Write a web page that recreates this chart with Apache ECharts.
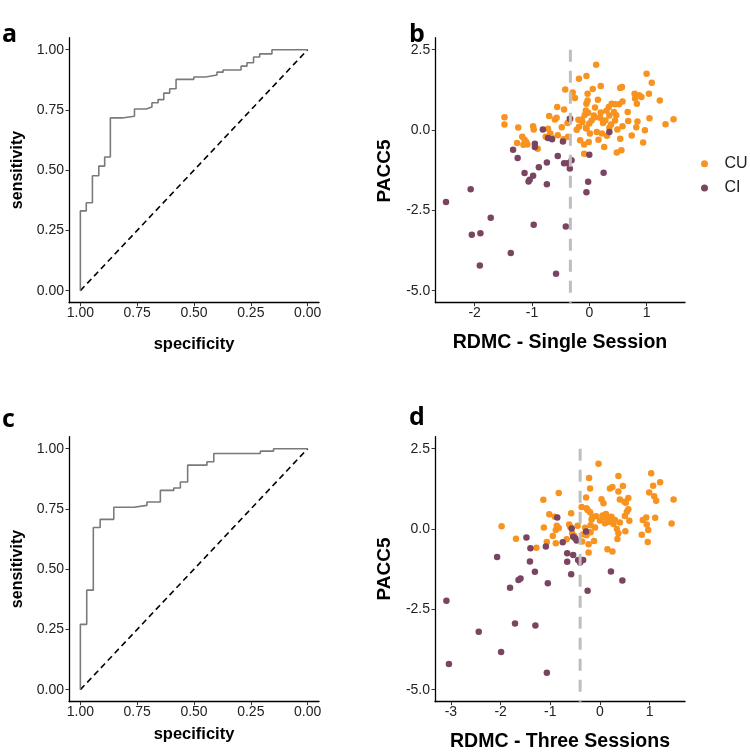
<!DOCTYPE html>
<html><head><meta charset="utf-8">
<script src="https://cdn.jsdelivr.net/npm/echarts@6/dist/echarts.min.js"></script>
<style>html,body{margin:0;padding:0;background:#fff}#chart{width:750px;height:753px}</style>
</head><body><div id="chart"></div>
<script>
// ROC curve corner points (specificity, sensitivity)
const rocA_spec = [1, 1, 0.974, 0.947, 0.919, 0.893, 0.868, 0.817, 0.762, 0.711, 0.685, 0.658, 0.633, 0.607, 0.579, 0.501, 0.449, 0.399, 0.372, 0.293, 0.267, 0.238, 0.211, 0.157, 0];
const rocA_sens = [0, 0.331, 0.365, 0.477, 0.517, 0.555, 0.717, 0.724, 0.754, 0.762, 0.780, 0.793, 0.820, 0.838, 0.877, 0.887, 0.895, 0.907, 0.916, 0.932, 0.946, 0.970, 0.983, 1.0, 1.0];
const rocC_spec = [1, 1, 0.972, 0.943, 0.913, 0.853, 0.765, 0.707, 0.648, 0.589, 0.560, 0.528, 0.443, 0.413, 0.208, 0.150, 0];
const rocC_sens = [0, 0.271, 0.413, 0.673, 0.707, 0.757, 0.765, 0.779, 0.827, 0.837, 0.862, 0.932, 0.946, 0.980, 0.990, 1.0, 1.0];
const rocTicks = [0, 0.25, 0.5, 0.75, 1];

// Panel b: RDMC single session vs PACC5
const bCU = [[-1.48,0.40],[-1.48,0.17],[-1.24,0.08],[-1.26,-0.40],[-1.17,-0.21],[-1.13,-0.30],[-1.15,-0.46],[-1.10,-0.37],[-1.08,-0.45],[-0.98,0.12],[-0.97,0.02],[-0.90,-0.58],[-0.76,-0.21],[-0.72,0.04],[-0.70,0.44],[-0.68,-0.11],[-0.65,-0.25],[-0.60,0.33],[-0.57,0.38],[-0.56,0.72],[-0.55,-0.16],[-0.48,0.09],[-0.45,-0.29],[-0.44,0.64],[-0.42,1.26],[-0.38,0.22],[-0.37,-0.21],[-0.33,0.35],[-0.29,1.17],[-0.25,1.00],[-0.22,0.01],[-0.19,0.32],[-0.18,1.60],[-0.16,-0.32],[-0.13,0.33],[-0.09,-0.45],[-0.09,-0.74],[-0.08,0.47],[-0.06,0.07],[-0.06,0.61],[-0.05,1.68],[-0.05,0.82],[-0.03,0.92],[-0.03,1.13],[-0.02,0.54],[-0.01,-0.37],[0.00,0.20],[0.01,-0.11],[0.04,0.30],[0.06,1.28],[0.10,0.40],[0.12,2.03],[0.13,-0.06],[0.15,0.94],[0.16,-0.30],[0.19,0.38],[0.20,1.37],[0.22,-0.11],[0.24,0.22],[0.26,-0.53],[0.28,0.30],[0.31,-0.18],[0.34,0.72],[0.35,0.07],[0.38,0.17],[0.39,0.82],[0.43,0.56],[0.45,0.30],[0.47,0.46],[0.48,-0.70],[0.49,0.02],[0.52,0.80],[0.54,1.31],[0.54,-0.27],[0.56,-0.63],[0.57,1.34],[0.58,0.89],[0.67,0.56],[0.68,0.28],[0.74,-0.17],[0.79,1.13],[0.80,0.98],[0.82,0.09],[0.84,0.27],[0.83,0.82],[0.87,1.08],[0.91,1.03],[0.94,-0.39],[0.97,-0.01],[1.00,1.75],[1.04,1.13],[1.05,0.37],[1.09,1.47],[1.23,0.92],[1.33,0.18],[1.47,0.34],[-0.05,0.05],[0.08,0.45],[0.30,0.60],[0.20,0.55],[-0.12,0.25],[0.45,0.80],[0.58,0.12],[0.10,0.70],[-0.18,0.10],[0.35,0.45]];
const bCI = [[-2.50,-2.24],[-2.07,-1.84],[-2.05,-3.26],[-1.90,-3.21],[-1.91,-4.22],[-1.72,-2.73],[-1.37,-3.83],[-1.33,-0.61],[-1.25,-0.87],[-1.13,-1.34],[-1.06,-1.60],[-1.04,-1.55],[-0.98,-1.42],[-0.97,-2.95],[-0.95,-0.43],[-0.95,-0.53],[-0.88,-1.16],[-0.81,0.02],[-0.74,-1.01],[-0.74,-1.69],[-0.72,-0.25],[-0.65,-0.29],[-0.58,-4.47],[-0.55,-0.81],[-0.46,-0.36],[-0.44,-1.03],[-0.41,-3.00],[-0.38,-1.03],[-0.34,0.35],[-0.34,-1.20],[-0.31,-0.94],[-0.05,-1.94],[-0.02,-1.61],[0.00,-0.77],[0.25,-1.33],[0.35,-0.06]];
const bCutoff = -0.33;

// Panel d: RDMC three sessions vs PACC5
const dCU = [[-1.98,0.09],[-1.69,-0.30],[-1.28,-0.58],[-1.14,0.91],[-1.13,0.05],[-1.07,-0.40],[-1.02,0.46],[-0.95,-0.22],[-0.91,0.38],[-0.89,-0.44],[-0.89,-0.03],[-0.87,0.10],[-0.83,0.03],[-0.83,1.12],[-0.67,-0.32],[-0.62,0.14],[-0.60,0.07],[-0.58,0.49],[-0.56,-0.13],[-0.52,-0.21],[-0.37,0.69],[-0.34,-0.16],[-0.36,-0.39],[-0.30,0.04],[-0.28,0.98],[-0.27,-0.19],[-0.25,0.59],[-0.23,-0.73],[-0.23,-0.47],[-0.22,1.59],[-0.20,1.26],[-0.20,0.52],[-0.19,0.12],[-0.19,-0.10],[-0.17,0.30],[-0.15,0.38],[-0.12,-0.37],[-0.08,0.40],[-0.03,2.03],[0.03,0.93],[0.07,0.80],[0.07,0.38],[0.10,0.18],[0.12,0.47],[0.13,0.36],[0.15,-0.63],[0.19,0.30],[0.20,1.26],[0.23,0.38],[0.25,1.31],[0.25,-0.70],[0.27,0.16],[0.30,0.28],[0.34,0.00],[0.35,-0.31],[0.37,-0.13],[0.37,1.65],[0.37,1.17],[0.40,0.92],[0.46,1.34],[0.49,0.85],[0.50,0.41],[0.51,-0.07],[0.52,0.82],[0.54,0.54],[0.57,0.97],[0.57,0.62],[0.59,0.26],[0.84,-0.18],[0.86,0.28],[0.93,0.36],[0.94,0.14],[0.96,-0.40],[0.97,-0.03],[0.99,1.14],[1.03,1.74],[1.07,1.35],[1.09,1.02],[1.11,0.35],[1.13,0.88],[1.21,1.46],[1.44,0.17],[1.48,0.92],[0.00,0.27],[0.20,0.22],[-0.27,0.65],[-0.45,0.10],[0.40,0.20],[0.05,0.42],[-0.10,0.05]];
const dCI = [[-3.09,-2.23],[-3.04,-4.20],[-2.44,-3.20],[-2.07,-0.87],[-1.99,-3.83],[-1.81,-1.83],[-1.71,-2.94],[-1.64,-1.59],[-1.60,-1.54],[-1.48,-0.26],[-1.41,-1.01],[-1.40,-0.60],[-1.31,-1.33],[-1.30,-3.00],[-1.09,-0.54],[-1.07,-4.47],[-1.05,-1.69],[-0.86,0.36],[-0.75,-0.41],[-0.66,-0.75],[-0.66,-1.02],[-0.58,-1.41],[-0.57,0.02],[-0.54,-0.81],[-0.54,-0.24],[-0.50,-0.29],[-0.47,-0.36],[-0.44,-0.96],[-0.40,-1.04],[-0.34,-0.96],[-0.28,-0.08],[-0.25,-1.92],[0.22,-1.32],[0.45,-1.60]];
const dCutoff = -0.40;

const paccTicks = [-5, -2.5, 0, 2.5];
const bXTicks = [-2, -1, 0, 1];
const dXTicks = [-3, -2, -1, 0, 1];

const CU_COLOR = '#F7931E';
const CI_COLOR = '#7A4560';
const FONT = '"Liberation Sans", Arial, sans-serif';

function stepPath(spec, sens) {
  const out = [[spec[0], sens[0]]];
  for (let i = 1; i < spec.length; i++) {
    out.push([spec[i], sens[i - 1]]);
    out.push([spec[i], sens[i]]);
  }
  return out;
}

function baseAxis(gridIndex, min, max, ticks, fmt, margin, inverse) {
  return {
    type: 'value', gridIndex, min, max, inverse: !!inverse,
    axisLine: { show: true, onZero: false, lineStyle: { color: '#000', width: 1.3 } },
    axisTick: { show: true, length: 3.5, customValues: ticks, lineStyle: { color: '#333', width: 1 } },
    axisLabel: { show: true, customValues: ticks, formatter: fmt, margin, color: '#222', fontSize: 14, fontFamily: FONT },
    splitLine: { show: false }
  };
}

const f2 = v => Number(v).toFixed(2);
const f1 = v => Number(v).toFixed(1);
const f0 = v => String(Math.round(v));

const chart = echarts.init(document.getElementById('chart'), null, { renderer: 'canvas' });

const rocLine = (idx, spec, sens) => ({
  type: 'line', xAxisIndex: idx, yAxisIndex: idx, data: stepPath(spec, sens),
  showSymbol: false, symbol: 'none', silent: true,
  lineStyle: { color: '#7A7A7A', width: 1.6 }, z: 3
});
const diag = idx => ({
  type: 'line', xAxisIndex: idx, yAxisIndex: idx, data: [[1, 0], [0, 1]],
  showSymbol: false, symbol: 'none', silent: true,
  lineStyle: { color: '#000', width: 1.6, type: [6, 4] }, z: 2
});
const scatter = (idx, name, data, color) => ({
  type: 'scatter', name, xAxisIndex: idx, yAxisIndex: idx, data,
  symbol: 'circle', symbolSize: 6.5, itemStyle: { color, opacity: 1 }, silent: true, z: 3
});
const cutoff = (idx, x, ymin) => ({
  type: 'line', xAxisIndex: idx, yAxisIndex: idx, data: [[x, 2.5], [x, ymin]],
  showSymbol: false, symbol: 'none', silent: true,
  lineStyle: { color: '#BEBEBE', width: 3, type: [12, 9] }, z: 4
});

const txt = (text, x, y, font, opts) => Object.assign({
  type: 'text', x, y, silent: true,
  style: Object.assign({ text, font, fill: '#000', align: 'center', verticalAlign: 'middle' }, (opts && opts.style) || {})
}, opts && opts.rotation ? { rotation: opts.rotation } : {});

const option = {
  animation: false,
  backgroundColor: '#fff',
  grid: [
    { left: 69, top: 37.7, width: 250, height: 265 },
    { left: 435.3, top: 37.7, width: 249.7, height: 265 },
    { left: 69, top: 436.7, width: 250, height: 265 },
    { left: 435, top: 436.7, width: 250, height: 265 }
  ],
  xAxis: [
    baseAxis(0, -0.05, 1.05, rocTicks, f2, 3.5, true),
    baseAxis(1, -2.687, 1.670, bXTicks, f0, 3.5),
    baseAxis(2, -0.05, 1.05, rocTicks, f2, 3.5, true),
    baseAxis(3, -3.32, 1.71, dXTicks, f0, 3.5)
  ],
  yAxis: [
    baseAxis(0, -0.05, 1.05, rocTicks, f2, 5),
    baseAxis(1, -5.375, 2.875, paccTicks, f1, 5),
    baseAxis(2, -0.05, 1.05, rocTicks, f2, 5),
    baseAxis(3, -5.375, 2.875, paccTicks, f1, 5)
  ],
  legend: {
    orient: 'vertical', left: 696, top: 150.7, icon: 'circle',
    itemWidth: 30, itemHeight: 7, itemGap: 8.3, selectedMode: false,
    data: ['CU', 'CI'],
    textStyle: { fontSize: 16, color: '#222', fontFamily: FONT, lineHeight: 16 }
  },
  series: [
    diag(0), rocLine(0, rocA_spec, rocA_sens),
    scatter(1, 'CU', bCU, CU_COLOR), scatter(1, 'CI', bCI, CI_COLOR), cutoff(1, bCutoff, -5.375),
    diag(2), rocLine(2, rocC_spec, rocC_sens),
    scatter(3, 'CU', dCU, CU_COLOR), scatter(3, 'CI', dCI, CI_COLOR), cutoff(3, dCutoff, -5.375)
  ],
  graphic: [
    txt('a', 2, 22, 'bold 25px "Open Sans", sans-serif', { style: { align: 'left', verticalAlign: 'alphabetic' } }),
    txt('b', 409, 22, 'bold 25px "Open Sans", sans-serif', { style: { align: 'left', verticalAlign: 'alphabetic' } }),
    txt('c', 2, 407, 'bold 25px "Open Sans", sans-serif', { style: { align: 'left', verticalAlign: 'alphabetic' } }),
    txt('d', 409, 405, 'bold 25px "Open Sans", sans-serif', { style: { align: 'left', verticalAlign: 'alphabetic' } }),
    txt('sensitivity', 18, 170, 'bold 16px ' + FONT, { rotation: Math.PI / 2 }),
    txt('sensitivity', 18, 569, 'bold 16px ' + FONT, { rotation: Math.PI / 2 }),
    txt('specificity', 194, 344, 'bold 16.5px ' + FONT),
    txt('specificity', 194, 734, 'bold 16.5px ' + FONT),
    txt('PACC5', 385, 171, 'bold 19px ' + FONT, { rotation: Math.PI / 2 }),
    txt('PACC5', 385, 569, 'bold 19px ' + FONT, { rotation: Math.PI / 2 }),
    txt('RDMC - Single Session', 560, 343, 'bold 19.5px ' + FONT),
    txt('RDMC - Three Sessions', 560, 742, 'bold 19.5px ' + FONT)
  ]
};
chart.setOption(option);
</script>
</body></html>
